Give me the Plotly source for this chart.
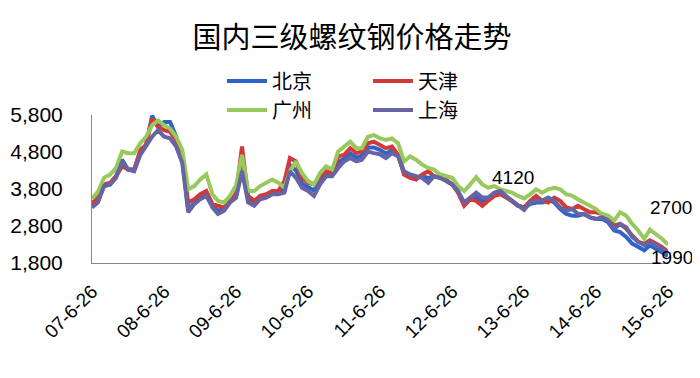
import pandas as pd
import plotly.graph_objects as go

title_text = "国内三级螺纹钢价格走势"
series_names = ["北京", "天津", "广州", "上海"]
series_colors = ["#2E64C8", "#D23A3A", "#98C95C", "#6664A3"]

# monthly sample dates starting 2007-06-26
dates = pd.date_range(start="2007-06-26", periods=97, freq=pd.DateOffset(months=1))

beijing = [3346, 3480, 3880, 3924, 4146, 4591, 4324, 4324, 4769, 4991,
           5780, 5480, 5613, 5613, 5213, 4591, 3258, 3435, 3569, 3657,
           3346, 3213, 3258, 3480, 3620, 4500, 3520, 3400, 3570, 3610,
           3700, 3700, 3800, 4450, 4300, 3950, 3850, 3760, 4030, 4210,
           4190, 4520, 4630, 4760, 4650, 4700, 4920, 4920, 4860, 4760,
           4850, 4700, 4240, 4150, 4100, 4140, 4100, 4140, 4100, 4030,
           3920, 3720, 3400, 3550, 3600, 3460, 3520, 3660, 3700, 3590,
           3480, 3346, 3302, 3391, 3435, 3435, 3524, 3435, 3258, 3124,
           3080, 3080, 3124, 3035, 2991, 2991, 2902, 2680, 2635, 2502,
           2324, 2235, 2146, 2280, 2191, 2102, 1990]

tianjin = [3391, 3613, 3924, 3969, 4146, 4413, 4324, 4324, 4857, 4991,
           5700, 5480, 5391, 5346, 5124, 4680, 3435, 3524, 3657, 3746,
           3391, 3346, 3302, 3480, 3680, 4946, 3613, 3480, 3613, 3657,
           3746, 3746, 4013, 4635, 4546, 4102, 3969, 3924, 4146, 4280,
           4235, 4680, 4724, 4902, 4769, 4813, 5035, 5080, 5000, 4902,
           4946, 4724, 4191, 4102, 4057, 4191, 4280, 4146, 4102, 4057,
           3924, 3702, 3346, 3524, 3480, 3346, 3480, 3613, 3657, 3569,
           3480, 3346, 3300, 3480, 3613, 3480, 3435, 3569, 3480, 3302,
           3258, 3346, 3258, 3169, 3169, 3124, 3035, 2813, 2857, 2724,
           2546, 2369, 2324, 2413, 2324, 2235, 2102]

guangzhou = [3542, 3720, 4102, 4191, 4369, 4813, 4769, 4769, 5035, 5213,
             5524, 5657, 5524, 5435, 5213, 4857, 3791, 3880, 4057, 4191,
             3657, 3480, 3435, 3613, 3900, 4724, 3746, 3746, 3880, 3969,
             4057, 3969, 3835, 4280, 4546, 4235, 4013, 3924, 4235, 4413,
             4324, 4813, 4946, 5080, 4902, 4902, 5213, 5257, 5170, 5124,
             5169, 5035, 4546, 4680, 4591, 4458, 4369, 4324, 4191, 4146,
             4102, 3880, 3746, 3924, 4120, 3924, 3835, 3880, 3791, 3746,
             3702, 3613, 3545, 3657, 3791, 3702, 3791, 3835, 3791, 3657,
             3613, 3524, 3435, 3346, 3258, 3124, 3080, 2946, 3169, 3080,
             2857, 2680, 2457, 2700, 2591, 2457, 2300]

shanghai = [3302, 3435, 3880, 3924, 4102, 4546, 4324, 4280, 4724, 4946,
            5213, 5391, 5213, 5169, 4946, 4502, 3169, 3391, 3524, 3613,
            3302, 3124, 3213, 3435, 3560, 4280, 3435, 3346, 3524, 3569,
            3657, 3657, 3702, 4280, 4102, 3835, 3746, 3613, 3924, 4146,
            4146, 4369, 4546, 4635, 4546, 4591, 4813, 4769, 4740, 4635,
            4769, 4680, 4280, 4191, 4146, 4102, 3969, 4146, 4102, 4013,
            3924, 3746, 3435, 3569, 3702, 3569, 3569, 3702, 3746, 3613,
            3480, 3346, 3235, 3435, 3480, 3480, 3569, 3480, 3302, 3213,
            3258, 3124, 3124, 3035, 2991, 3035, 2946, 2724, 2857, 2769,
            2502, 2369, 2280, 2369, 2280, 2191, 2058]

y_ticks = [1800, 2800, 3800, 4800, 5800]
x_tick_dates = ["2007-06-26", "2008-06-26", "2009-06-26", "2010-06-26", "2011-06-26",
                "2012-06-26", "2013-06-26", "2014-06-26", "2015-06-26"]
x_tick_labels = ["07-6-26", "08-6-26", "09-6-26", "10-6-26", "11-6-26",
                 "12-6-26", "13-6-26", "14-6-26", "15-6-26"]

# labelled points: (series index, point index, text)
labels = [(2, 64, "4120"), (2, 93, "2700"), (0, 96, "1990")]

all_series = [beijing, tianjin, guangzhou, shanghai]
legend_ids = ["legend", "legend", "legend2", "legend2"]

# page body has an 8px margin, so the figure is 8px smaller than the window
W, H = 692, 370

fig = go.Figure()
for name, vals, col, lg in zip(series_names, all_series, series_colors, legend_ids):
    fig.add_trace(go.Scatter(x=dates, y=vals, mode="lines", name=name,
                             line=dict(color=col, width=4), legend=lg))

shifts = {"4120": (14, 0, "left"), "2700": (21, 22, "center"), "1990": (4, -2, "center")}
for si, pi, txt in labels:
    xs, ys, xa = shifts[txt]
    fig.add_annotation(x=dates[pi], y=all_series[si][pi], text=txt, showarrow=False,
                       xanchor=xa, yanchor="middle", xshift=xs, yshift=ys,
                       font=dict(size=19, family="Liberation Sans", color="#000"))

legend_style = dict(orientation="h", xref="container", yref="container",
                    xanchor="left", yanchor="middle", entrywidth=91,
                    font=dict(size=20, family="Noto Sans CJK SC", color="#000"),
                    bgcolor="rgba(0,0,0,0)", itemwidth=40)

fig.update_layout(
    width=W, height=H,
    paper_bgcolor="white", plot_bgcolor="white",
    margin=dict(l=84, r=32, t=107, b=115, autoexpand=False),
    title=dict(text=title_text, x=344 / W, xref="container", xanchor="center",
               y=1 - 30 / H, yref="container", yanchor="middle",
               font=dict(size=29, family="Noto Sans CJK SC", color="#000")),
    legend=dict(x=214 / W, y=1 - 73 / H, **legend_style),
    legend2=dict(x=214 / W, y=1 - 102 / H, **legend_style),
    xaxis=dict(type="date", range=["2007-06-26", "2015-06-26"], automargin=False,
               tickvals=x_tick_dates, ticktext=x_tick_labels, tickangle=-45,
               showgrid=False, zeroline=False, showline=True, linecolor="#878787",
               linewidth=1, ticks="", ticklabelstandoff=9,
               tickfont=dict(size=19, family="Liberation Sans", color="#000")),
    yaxis=dict(range=[1800, 5800], tickvals=y_ticks, tickformat=",", automargin=False,
               showgrid=False, zeroline=False, showline=True, linecolor="#878787",
               linewidth=1, ticks="", ticklabelstandoff=24,
               tickfont=dict(size=21, family="Liberation Sans", color="#000")),
)

fig.write_html("out.html")
